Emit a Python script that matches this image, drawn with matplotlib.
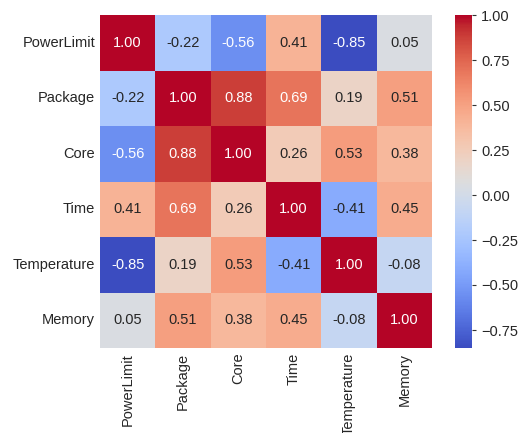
import numpy as np
import matplotlib
matplotlib.use("Agg")
import matplotlib.pyplot as plt
import seaborn as sns
import pandas as pd

labels = ["PowerLimit", "Package", "Core", "Time", "Temperature", "Memory"]
row_powerlimit = [1.00, -0.22, -0.56, 0.41, -0.85, 0.05]
row_package = [-0.22, 1.00, 0.88, 0.69, 0.19, 0.51]
row_core = [-0.56, 0.88, 1.00, 0.26, 0.53, 0.38]
row_time = [0.41, 0.69, 0.26, 1.00, -0.41, 0.45]
row_temperature = [-0.85, 0.19, 0.53, -0.41, 1.00, -0.08]
row_memory = [0.05, 0.51, 0.38, 0.45, -0.08, 1.00]

corr = pd.DataFrame([row_powerlimit, row_package, row_core, row_time,
                     row_temperature, row_memory], index=labels, columns=labels)

sns.set_theme(style="white")
plt.rcParams['font.family'] = ['Liberation Sans', 'DejaVu Sans']

fig = plt.figure(figsize=(5.2, 4.33), dpi=100)
ax = fig.add_axes([100/520, 1 - 348/433, 332/520, 333/433])
cax = fig.add_axes([455/520, 1 - 348/433, 17/520, 333/433])
sns.heatmap(corr, annot=True, fmt=".2f", cmap="coolwarm", ax=ax, cbar_ax=cax,
            annot_kws={"size": 10.5})
ax.tick_params(axis='both', labelsize=10.5, length=0)
ax.set_yticklabels(labels, rotation=0)
ax.set_xticklabels(labels, rotation=90)
cax.tick_params(labelsize=10.5, length=3, width=0.8, color='#333333')
fig.savefig("out.png", dpi=100)
